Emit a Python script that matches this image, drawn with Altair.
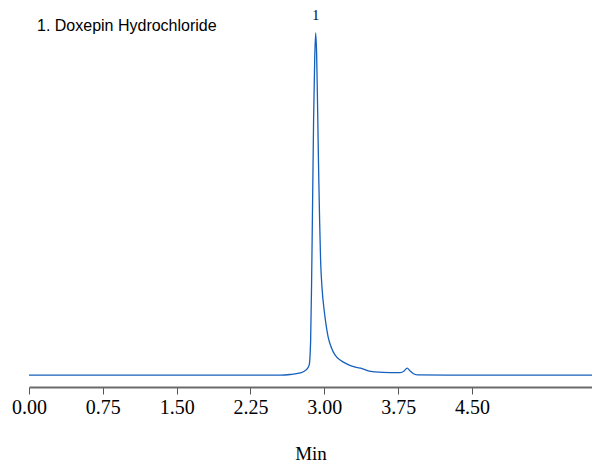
import altair as alt
import pandas as pd

# Chromatogram trace (time in min, relative response)
time_min = [0.000, 1.000, 2.246, 2.550, 2.652, 2.754, 2.815, 2.846, 2.861, 2.871, 2.881,
            2.891, 2.902, 2.912, 2.922, 2.932, 2.942, 2.952, 2.962, 2.978, 2.998,
            3.018, 3.039, 3.069, 3.110, 3.161, 3.232, 3.313, 3.384, 3.445, 3.516,
            3.669, 3.770, 3.811, 3.841, 3.872, 3.902, 3.943, 4.278, 5.000, 5.719]
response = [0.0, 0.0, 0.0, 0.0, 0.15, 0.6, 1.5, 2.9, 10.2, 27.8, 51.2,
            74.6, 92.1, 100.0, 93.6, 77.5, 59.9, 45.3, 33.6, 24.9, 19.0,
            14.6, 11.1, 8.2, 5.8, 4.4, 3.2, 2.3, 1.9, 1.2, 0.9,
            0.7, 0.7, 1.2, 2.0, 1.2, 0.45, 0.05, 0.0, 0.0, -0.05]

# Peak annotation
peak_time = [2.912]
peak_resp = [100.0]
peak_label = ["1"]

tick_values = [0.0, 0.75, 1.5, 2.25, 3.0, 3.75, 4.5]

trace = pd.DataFrame({"t": time_min, "v": response})
peaks = pd.DataFrame({"t": peak_time, "v": peak_resp, "label": peak_label})

x_scale = alt.Scale(domain=[0, 5.719], nice=False, zero=False)
y_scale = alt.Scale(domain=[-3.5, 100], nice=False, zero=False)

line = alt.Chart(trace).mark_line(color="#1560bd", strokeWidth=1.3, interpolate="monotone").encode(
    x=alt.X("t:Q", scale=x_scale,
            axis=alt.Axis(title="Min", values=tick_values, format=".2f", grid=False,
                          domainColor="#6b6b6b", domainWidth=2, tickColor="#555555",
                          tickWidth=1, tickSize=7, labelFont="Liberation Serif",
                          labelFontSize=20, labelColor="#000000", labelPadding=3,
                          titleFont="Liberation Serif", titleFontSize=19,
                          titleFontWeight="normal", titleColor="#000000",
                          titlePadding=27, labelFlush=False)),
    y=alt.Y("v:Q", scale=y_scale, axis=None),
)

labels = alt.Chart(peaks).mark_text(font="Liberation Serif", fontSize=14, color="#000000", dy=-17).encode(
    x=alt.X("t:Q", scale=x_scale),
    y=alt.Y("v:Q", scale=y_scale),
    text="label:N",
)

chart = (line + labels).properties(
    width=563,
    height=354,
    title=alt.TitleParams("1. Doxepin Hydrochloride", anchor="start", frame="group", dx=8,
                          offset=-25, font="Liberation Sans", fontSize=16,
                          fontWeight="normal", color="#000000"),
    autosize=alt.AutoSizeParams(type="none"),
    padding={"left": 21, "top": 25, "right": 0, "bottom": 75},
).configure_view(stroke=None)

chart.save("out.html", embed_options={"renderer": "svg", "actions": False})
